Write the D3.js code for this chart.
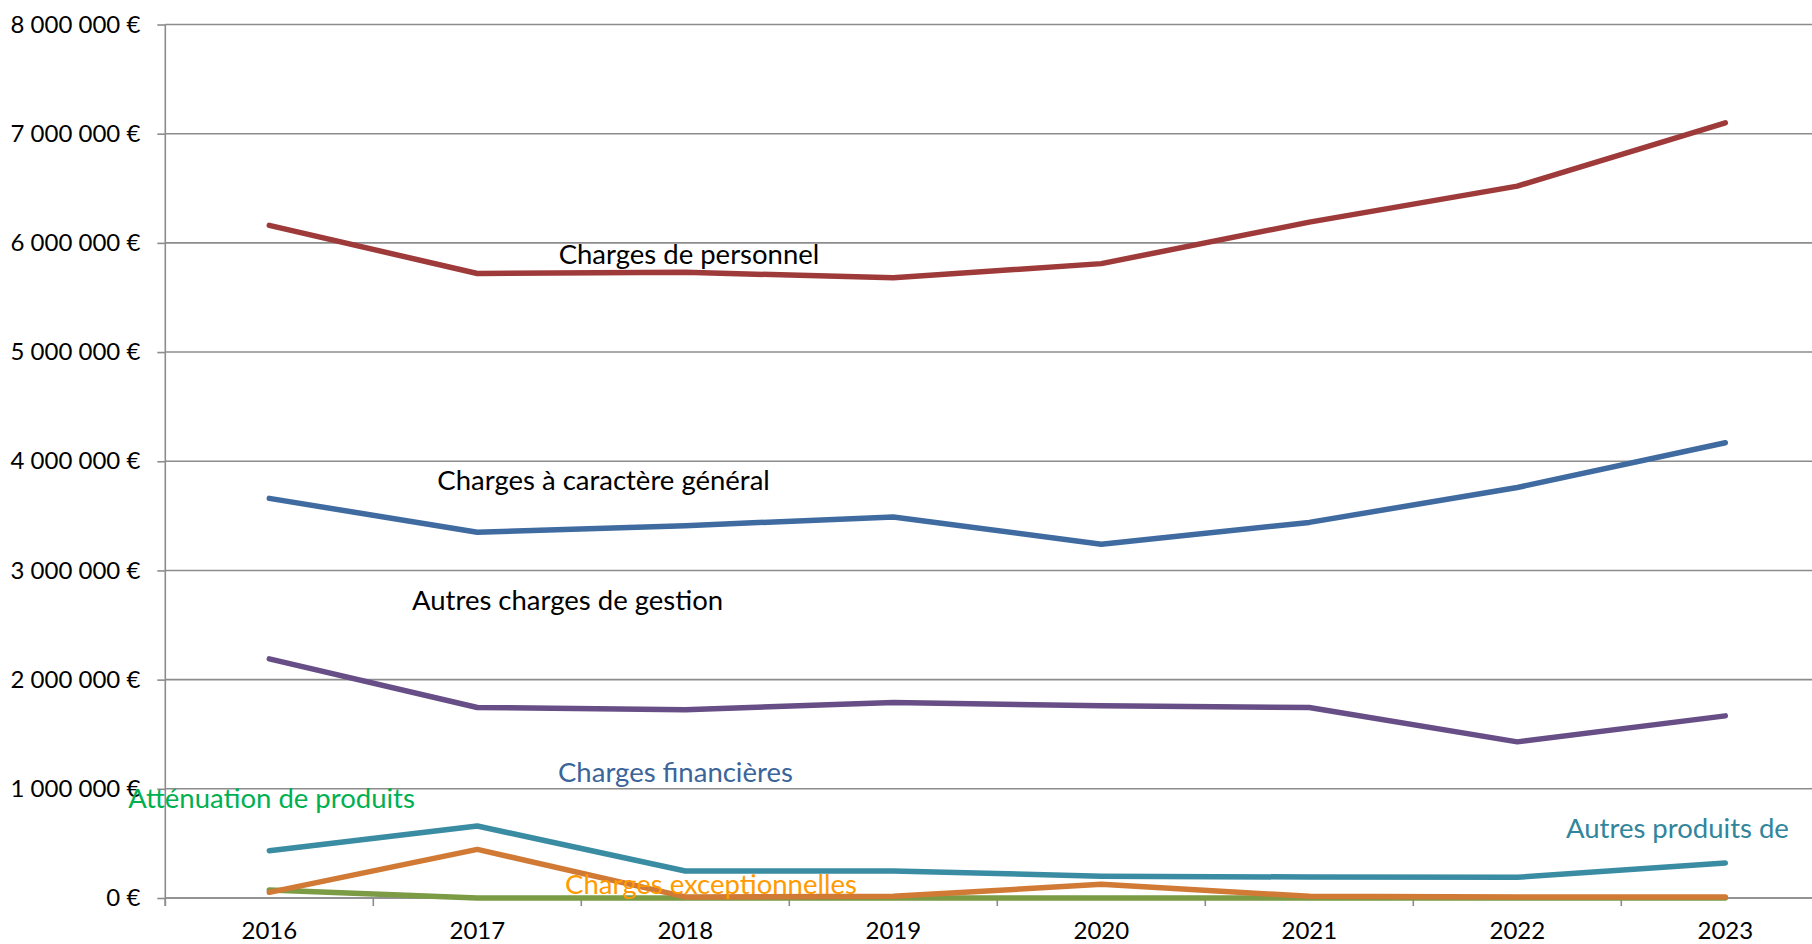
<!DOCTYPE html>
<html>
<head>
<meta charset="utf-8">
<script src="https://cdn.jsdelivr.net/npm/d3@7"></script>
<style>
  html, body { margin: 0; padding: 0; background: #ffffff; }
  svg { display: block; font-family: Lato, "Open Sans", sans-serif; }
</style>
</head>
<body>
<svg id="chart" width="1812" height="944"></svg>
<script>
// ---- Data ----
const years = ["2016", "2017", "2018", "2019", "2020", "2021", "2022", "2023"];
const yTicks = [0, 1000000, 2000000, 3000000, 4000000, 5000000, 6000000, 7000000, 8000000];

const chargesPersonnel   = [6160000, 5720000, 5730000, 5680000, 5810000, 6190000, 6520000, 7100000];
const chargesGeneral     = [3660000, 3350000, 3410000, 3490000, 3240000, 3440000, 3760000, 4170000];
const autresGestion      = [2190000, 1745000, 1725000, 1790000, 1760000, 1745000, 1430000, 1668000];
const autresProduits     = [433000, 659000, 247000, 247000, 200000, 192000, 190000, 320000];
const attenuation        = [73000, 0, 0, 0, 0, 0, 0, 0];
const chargesExcept      = [52000, 445000, 10000, 15000, 125000, 15000, 10000, 10000];

const seriesNames = ["Charges de personnel", "Charges à caractère général", "Autres charges de gestion",
                     "Autres produits de", "Atténuation de produits", "Charges exceptionnelles"];
const seriesValues = [chargesPersonnel, chargesGeneral, autresGestion, autresProduits, attenuation, chargesExcept];

// Annotation texts (anchored in data space: category offset, value)
const labelTexts  = ["Charges de personnel", "Charges à caractère général", "Autres charges de gestion",
                     "Charges financières", "Atténuation de produits", "Autres produits de", "Charges exceptionnelles"];
const labelCatPos = [1.891, 1.308, 1.186, 1.888, -0.178, 6.734, 1.922];
const labelValPos = [5806000, 3733000, 2635000, 1064000, 821000, 546000, 37000];

// ---- Styles ----
const seriesColors = ["#9e3b3a", "#3f6ba0", "#674e86", "#3a8ca3", "#7b9b45", "#d07a35"];
const labelColors  = ["#000000", "#000000", "#000000", "#3b6599", "#00b050", "#31859c", "#ff9a00"];
const gridColor = "#8c8c8c";

// ---- Layout ----
const W = 1812, H = 944;
const plotLeft = 165.3, bandW = 208, plotTop = 24.5, plotBottom = 898;

const svg = d3.select("#chart");
svg.append("rect").attr("width", W).attr("height", H).attr("fill", "#fff");

const x = d3.scaleBand().domain(years).range([plotLeft, plotLeft + bandW * years.length]).paddingInner(0).paddingOuter(0);
const xc = d => x(d) + x.bandwidth() / 2;
const y = d3.scaleLinear().domain([0, 8000000]).range([plotBottom, plotTop]);

const locale = d3.formatLocale({decimal: ",", thousands: " ", grouping: [3], currency: ["", " €"]});
const fmt = locale.format(",.0f");

// Gridlines
svg.append("g").selectAll("line").data(yTicks).join("line")
  .attr("x1", plotLeft).attr("x2", W)
  .attr("y1", d => y(d)).attr("y2", d => y(d))
  .attr("stroke", gridColor).attr("stroke-width", 1.6);

// Y axis
const yAxis = svg.append("g").attr("transform", `translate(${plotLeft},0)`)
  .call(d3.axisLeft(y).tickValues(yTicks).tickSize(8).tickPadding(17).tickFormat(d => fmt(d) + " €"));
yAxis.select(".domain").attr("stroke", gridColor).attr("stroke-width", 1.6)
  .attr("d", `M0,${plotTop}V${plotBottom + 8}`);
yAxis.selectAll(".tick line").attr("stroke", gridColor).attr("stroke-width", 1.6);
yAxis.selectAll(".tick text").attr("font-size", 24).attr("fill", "#000").attr("font-family", "Lato");

// X axis: boundary ticks and centered labels
const xAxis = svg.append("g").attr("transform", `translate(0,${plotBottom})`)
  .call(d3.axisBottom(x).tickSize(0).tickPadding(24));
xAxis.select(".domain").remove();
xAxis.selectAll(".tick text").attr("font-size", 24).attr("fill", "#000").attr("font-family", "Lato");
svg.append("g").selectAll("line").data(years).join("line")
  .attr("x1", d => x(d)).attr("x2", d => x(d))
  .attr("y1", plotBottom).attr("y2", plotBottom + 8)
  .attr("stroke", gridColor).attr("stroke-width", 1.6);
svg.append("line").attr("x1", plotLeft).attr("x2", W).attr("y1", plotBottom).attr("y2", plotBottom)
  .attr("stroke", gridColor).attr("stroke-width", 1.6);

// Lines
const line = d3.line().x((d, i) => xc(years[i])).y(d => y(d));
svg.append("g").selectAll("path").data(seriesValues).join("path")
  .attr("d", d => line(d))
  .attr("fill", "none")
  .attr("stroke", (d, i) => seriesColors[i])
  .attr("stroke-width", 5.5)
  .attr("stroke-linejoin", "round")
  .attr("stroke-linecap", "round");

// Annotations
svg.append("g").selectAll("text").data(labelTexts).join("text")
  .attr("x", (d, i) => plotLeft + labelCatPos[i] * x.bandwidth())
  .attr("y", (d, i) => y(labelValPos[i]))
  .attr("font-size", 27.5)
  .attr("font-family", "Lato")
  .attr("fill", (d, i) => labelColors[i])
  .text(d => d);
</script>
</body>
</html>
